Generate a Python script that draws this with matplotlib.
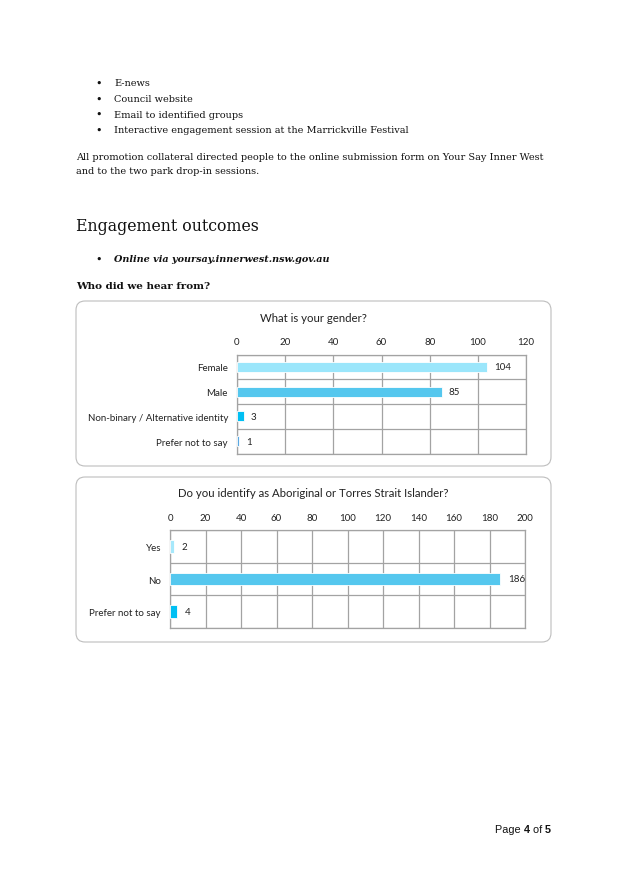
import matplotlib
matplotlib.use("Agg")
import matplotlib.pyplot as plt
from matplotlib.patches import FancyBboxPatch
import numpy as np

W, H = 627, 887

# ---------------- data ----------------
bullets = ["E-news", "Council website", "Email to identified groups",
           "Interactive engagement session at the Marrickville Festival"]
para_lines = ["All promotion collateral directed people to the online submission form on Your Say Inner West",
              "and to the two park drop-in sessions."]
heading = "Engagement outcomes"
online_bullet = "Online via yoursay.innerwest.nsw.gov.au"
subheading = "Who did we hear from?"

gender_title = "What is your gender?"
gender_cats = ["Female", "Male", "Non-binary / Alternative identity", "Prefer not to say"]
gender_vals = [104, 85, 3, 1]
gender_colors = ["#9BE6FB", "#55C7EE", "#00BFF3", "#5AA9E3"]
gender_ticks = [0, 20, 40, 60, 80, 100, 120]

abor_title = "Do you identify as Aboriginal or Torres Strait Islander?"
abor_cats = ["Yes", "No", "Prefer not to say"]
abor_vals = [2, 186, 4]
abor_colors = ["#A6E8FB", "#55C7EE", "#00BFF3"]
abor_ticks = [0, 20, 40, 60, 80, 100, 120, 140, 160, 180, 200]

footer_parts = [("Page ", "normal"), ("4", "bold"), (" of ", "normal"), ("5", "bold")]

# ---------------- figure ----------------
fig = plt.figure(figsize=(W / 100, H / 100), dpi=100)
bg = fig.add_axes([0, 0, 1, 1])
bg.set_xlim(0, W)
bg.set_ylim(H, 0)
bg.axis("off")

SERIF = ["DejaVu Serif"]
SANS = ["Lato", "DejaVu Sans"]
TXT = "#111111"
BODY = 7.0

# bullet list
for i, b in enumerate(bullets):
    y = 84 + i * 15.5
    bg.text(99, y, "\u2022", fontsize=8, family=SERIF, va="center", ha="center", color=TXT)
    bg.text(114, y, b, fontsize=BODY, family=SERIF, va="center", ha="left", color=TXT)

for i, line in enumerate(para_lines):
    bg.text(76, 157.5 + i * 14.5, line, fontsize=BODY, family=SERIF, va="center", ha="left", color=TXT)

bg.text(76, 226.5, heading, fontsize=11.3, family=SERIF, va="center", ha="left", color=TXT)

bg.text(99, 260, "\u2022", fontsize=8, family=SERIF, va="center", ha="center", color=TXT)
bg.text(114, 260, online_bullet, fontsize=6.9, family=SERIF, style="italic", weight="bold",
        va="center", ha="left", color=TXT)
bg.text(76, 286.5, subheading, fontsize=7.5, family=SERIF, weight="bold", va="center", ha="left", color=TXT)

# chart frames
for (x0, y0, x1, y1) in [(76, 302, 551, 467), (76, 478, 551, 643)]:
    box = FancyBboxPatch((x0, y0), x1 - x0, y1 - y0,
                         boxstyle="round,pad=0,rounding_size=9",
                         facecolor="white", edgecolor="#BDBDBD", linewidth=0.8)
    bg.add_patch(box)

bg.text(313, 318.5, gender_title, fontsize=8.2, family=SANS, va="center", ha="center", color="#222222")
bg.text(313, 494, abor_title, fontsize=8.2, family=SANS, va="center", ha="center", color="#222222")


def bar_chart(rect_px, cats, vals, colors, ticks, height_frac):
    x0, y0, x1, y1 = rect_px
    ax = fig.add_axes([x0 / W, 1 - y1 / H, (x1 - x0) / W, (y1 - y0) / H])
    n = len(cats)
    ypos = np.arange(n)
    ax.barh(ypos, vals, height=height_frac, color=colors, edgecolor="white", linewidth=0.6, zorder=3)
    ax.set_xlim(ticks[0], ticks[-1])
    ax.set_ylim(n - 0.5, -0.5)
    ax.set_xticks(ticks)
    ax.set_yticks(ypos)
    ax.set_yticklabels(cats)
    ax.set_yticks(np.arange(n + 1) - 0.5, minor=True)
    ax.xaxis.tick_top()
    ax.tick_params(axis="both", which="both", length=0, labelsize=7, colors="#222222")
    ax.tick_params(axis="x", pad=6)
    ax.tick_params(axis="y", pad=6.5)
    for lab in ax.get_xticklabels() + ax.get_yticklabels():
        lab.set_family(SANS)
    ax.grid(True, axis="x", which="major", color="#A3A3A3", linewidth=0.9, zorder=0)
    ax.grid(True, axis="y", which="minor", color="#A3A3A3", linewidth=0.9, zorder=0)
    ax.grid(False, axis="y", which="major")
    for s in ax.spines.values():
        s.set_color("#A3A3A3")
        s.set_linewidth(0.9)
    span = ticks[-1] - ticks[0]
    for yp, v in zip(ypos, vals):
        ax.text(v + span * 0.022, yp, str(v), fontsize=7, family=SANS, va="center", ha="left",
                color="#222222", zorder=4)
    return ax


bar_chart((237, 355.5, 526, 454.5), gender_cats, gender_vals, gender_colors, gender_ticks, 0.4)
bar_chart((170, 531, 525, 629), abor_cats, abor_vals, abor_colors, abor_ticks, 0.38)

# footer: "Page 4 of 5" with bold numbers, right edge at x=551
fig.canvas.draw()
renderer = fig.canvas.get_renderer()
widths = []
texts = []
for s, w in footer_parts:
    t = bg.text(0, 830, s, fontsize=7.8, family=["Liberation Sans"], weight=w, va="center", ha="left",
                color="#111111")
    texts.append(t)
fig.canvas.draw()
inv = bg.transData.inverted()
for t in texts:
    bb = t.get_window_extent(renderer)
    p0 = inv.transform((bb.x0, bb.y0))
    p1 = inv.transform((bb.x1, bb.y0))
    widths.append(p1[0] - p0[0])
x = 551 - sum(widths)
for t, w in zip(texts, widths):
    t.set_x(x)
    x += w

fig.savefig("out.png", dpi=100)
